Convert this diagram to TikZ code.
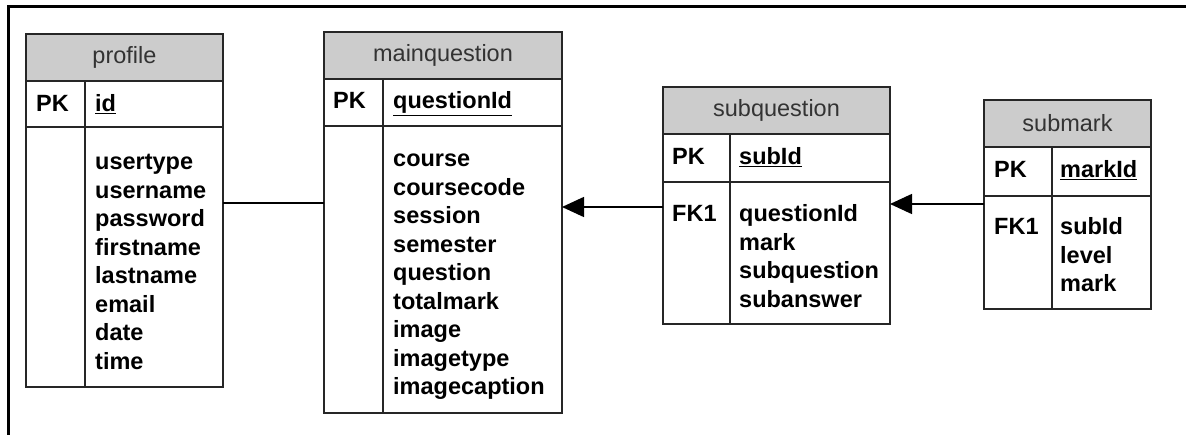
\documentclass[tikz,border=0pt]{standalone}
\usepackage{fontspec}
\setmainfont{Liberation Sans}
\usetikzlibrary{arrows.meta, positioning}

\begin{document}
\begin{tikzpicture}[x=1pt, y=-1pt, font=\fontsize{23.5}{28.5}\selectfont]
    % Styles
    \tikzstyle{header} = [rectangle, draw=black!85, line width=1.5pt, fill=gray!40, text=black!80, outer sep=0pt, minimum height=47pt]
    \tikzstyle{row} = [rectangle, draw=black!85, line width=1.5pt, fill=white, outer sep=0pt]
    \tikzstyle{key} = [anchor=base west, inner sep=0pt, font=\fontsize{23.5}{28.5}\selectfont\bfseries]
    % fields: anchored on the baseline of the last line
    \tikzstyle{fields} = [anchor=base west, inner sep=0pt, align=left, font=\fontsize{23.5}{28.5}\selectfont\bfseries]
    \tikzstyle{divider} = [draw=black!85, line width=1.5pt]
    \tikzstyle{link} = [line width=1.5pt]
    \tikzstyle{arrow} = [line width=1.5pt, -{Triangle[length=22pt, width=20pt]}]

    \useasboundingbox (0,0) rectangle (1186,435);

    % Frame
    \draw[line width=3pt] (8,435) -- (8,7) -- (1186,7);

    % Profile
    \node[header, minimum width=197pt] (profile) at (124.5,57.5) {profile};
    \node[row, minimum width=197pt, minimum height=46pt, below=0pt of profile] (profile-pk) {};
    \node[row, minimum width=197pt, minimum height=260pt, below=0pt of profile-pk] (profile-body) {};
    \draw[divider] (profile-pk.north -| 85,0) -- (profile-body.south -| 85,0);
    \node[key] (profile-pkkey) at (36,112) {PK};
    \node[key] (profile-id) at (95,112) {\underline{id}};
    \node[fields] (profile-fields) at (95,369.5) {usertype\\username\\password\\firstname\\lastname\\email\\date\\time};

    % Mainquestion
    \node[header, minimum width=238pt] (mainquestion) at (443,55.5) {mainquestion};
    \node[row, minimum width=238pt, minimum height=47pt, below=0pt of mainquestion] (mainquestion-pk) {};
    \node[row, minimum width=238pt, minimum height=287pt, below=0pt of mainquestion-pk] (mainquestion-body) {};
    \draw[divider] (mainquestion-pk.north -| 383,0) -- (mainquestion-body.south -| 383,0);
    \node[key] (mainquestion-pkkey) at (333,109) {PK};
    \node[key] (mainquestion-id) at (393,109) {\underline{questionId}};
    \node[fields] (mainquestion-fields) at (393,395) {course\\coursecode\\session\\semester\\question\\totalmark\\image\\imagetype\\imagecaption};

    % Subquestion
    \node[header, minimum width=227pt] (subquestion) at (776.5,110.5) {subquestion};
    \node[row, minimum width=227pt, minimum height=48pt, below=0pt of subquestion] (subquestion-pk) {};
    \node[row, minimum width=227pt, minimum height=142pt, below=0pt of subquestion-pk] (subquestion-body) {};
    \draw[divider] (subquestion-pk.north -| 730,0) -- (subquestion-body.south -| 730,0);
    \node[key] (subquestion-pkkey) at (672,165) {PK};
    \node[key] (subquestion-id) at (739,165) {\underline{subId}};
    \node[key] (subquestion-fkkey) at (672,222) {FK1};
    \node[fields] (subquestion-fields) at (739,307.5) {questionId\\mark\\subquestion\\subanswer};

    % Submark
    \node[header, minimum width=167pt] (submark) at (1067.5,123.5) {submark};
    \node[row, minimum width=167pt, minimum height=49pt, below=0pt of submark] (submark-pk) {};
    \node[row, minimum width=167pt, minimum height=113pt, below=0pt of submark-pk] (submark-body) {};
    \draw[divider] (submark-pk.north -| 1052,0) -- (submark-body.south -| 1052,0);
    \node[key] (submark-pkkey) at (994,178) {PK};
    \node[key] (submark-id) at (1060,178) {\underline{markId}};
    \node[key] (submark-fkkey) at (994,235) {FK1};
    \node[fields] (submark-fields) at (1060,292) {subId\\level\\mark};

    % Links
    \coordinate (link1) at (0,203);
    \coordinate (link2) at (0,207);
    \coordinate (link3) at (0,204);
    \draw[link] (profile-body.east |- link1) -- (mainquestion-body.west |- link1);
    \draw[arrow] (subquestion-body.west |- link2) -- (mainquestion-body.east |- link2);
    \draw[arrow] (submark-body.west |- link3) -- (subquestion-body.east |- link3);
\end{tikzpicture}
\end{document}
